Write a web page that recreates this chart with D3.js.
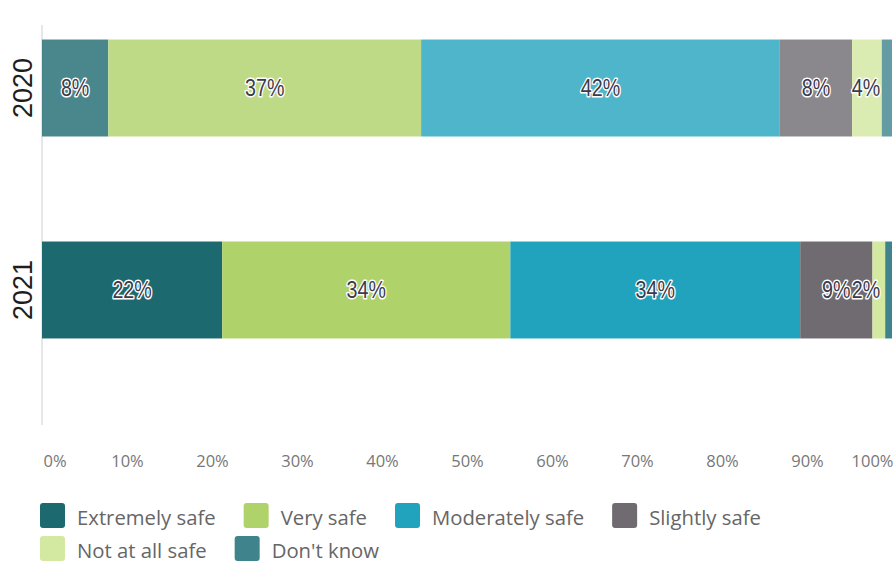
<!DOCTYPE html>
<html>
<head>
<meta charset="utf-8">
<script src="https://cdn.jsdelivr.net/npm/d3@7"></script>
<style>
  html, body { margin: 0; padding: 0; background: #fff; }
  svg { display: block; }
</style>
</head>
<body>
<svg id="chart" width="896" height="562"></svg>
<script>
// ---- data ----
const years = ["2020", "2021"];
const categories = ["Extremely safe", "Very safe", "Moderately safe", "Slightly safe", "Not at all safe", "Don't know"];
const values2020 = [7.8, 36.8, 42.2, 8.5, 3.5, 1.2];
const values2021 = [21.2, 33.9, 34.1, 8.5, 1.5, 0.8];
const labels2020 = ["8%", "37%", "42%", "8%", "4%", ""];
const labels2021 = ["22%", "34%", "34%", "9%", "2%", ""];
const colors = ["#1c6a70", "#b0d26a", "#22a3bd", "#6f6b71", "#d3e8a0", "#3f838c"];
const tickValues = [0, 10, 20, 30, 40, 50, 60, 70, 80, 90, 100];
const tickLabels = ["0%", "10%", "20%", "30%", "40%", "50%", "60%", "70%", "80%", "90%", "100%"];

const svg = d3.select("#chart");

const x = d3.scaleLinear().domain([0, 100]).range([42, 892]);
const y = d3.scaleBand().domain(years).range([-15, 393]).paddingInner(0.52).paddingOuter(0.27);
const color = d3.scaleOrdinal().domain(categories).range(colors);

const rows = [
  { year: "2020", values: values2020, labels: labels2020, opacity: 0.8 },
  { year: "2021", values: values2021, labels: labels2021, opacity: 1 }
];

// axis line
svg.append("line")
  .attr("x1", x(0)).attr("x2", x(0))
  .attr("y1", 25).attr("y2", 425)
  .attr("stroke", "#cfcfcf").attr("stroke-width", 1);

// bars
rows.forEach(row => {
  let cum = 0;
  const segs = row.values.map((v, i) => {
    const s = { cat: categories[i], x0: cum, x1: cum + v, label: row.labels[i] };
    cum += v;
    return s;
  });
  const g = svg.append("g").attr("opacity", row.opacity);
  g.selectAll("rect").data(segs).join("rect")
    .attr("x", d => x(d.x0))
    .attr("width", d => x(d.x1) - x(d.x0))
    .attr("y", y(row.year))
    .attr("height", y.bandwidth())
    .attr("fill", d => color(d.cat));

  const cy = y(row.year) + y.bandwidth() / 2;
  svg.append("g").selectAll("text").data(segs.filter(d => d.label)).join("text")
    .attr("transform", d => `translate(${Math.min((x(d.x0) + x(d.x1)) / 2, x(100) - 26)},${cy}) scale(0.82,1)`)
    .attr("text-anchor", "middle")
    .attr("dominant-baseline", "central")
    .attr("font-family", "'Liberation Sans', Arial, sans-serif")
    .attr("font-size", 24)
    .attr("fill", "#3b3b4c")
    .attr("stroke", "#ffffff")
    .attr("stroke-width", 3)
    .attr("paint-order", "stroke")
    .attr("stroke-linejoin", "round")
    .text(d => d.label);

  // year label
  svg.append("text")
    .attr("transform", `translate(32,${cy}) rotate(-90)`)
    .attr("text-anchor", "middle")
    .attr("font-family", "'Liberation Sans', Arial, sans-serif")
    .attr("font-size", 27)
    .attr("fill", "#1e1e1e")
    .text(row.year);
});

// x tick labels
const xAxis = d3.axisBottom(x).tickValues(tickValues).tickSize(0)
  .tickFormat((d, i) => tickLabels[i]);
const ax = svg.append("g").attr("transform", "translate(0,452)").call(xAxis);
ax.select(".domain").remove();
ax.selectAll("text")
  .attr("font-family", "'Open Sans', sans-serif")
  .attr("font-size", 16.5)
  .attr("fill", "#777777")
  .attr("text-anchor", (d, i) => i === 0 ? "start" : (i === tickValues.length - 1 ? "end" : "middle"))
  .attr("dx", (d, i) => i === 0 ? 1 : (i === tickValues.length - 1 ? 1 : 0));

// legend
const legend = svg.append("g");
let lx = 40, ly = 503;
const sq = 25;
categories.forEach((c, i) => {
  const item = legend.append("g");
  const t = item.append("text")
    .attr("x", sq + 12).attr("y", sq / 2 + 1)
    .attr("dominant-baseline", "central")
    .attr("font-family", "'Open Sans', sans-serif")
    .attr("font-size", 20.3)
    .attr("fill", "#666666")
    .text(c);
  const w = t.node().getComputedTextLength();
  const total = sq + 12 + w;
  if (lx + total > 800) { lx = 40; ly += 33; }
  item.attr("transform", `translate(${lx},${ly})`);
  item.insert("rect", "text")
    .attr("width", sq).attr("height", sq).attr("rx", 3)
    .attr("fill", color(c));
  lx += total + 28;
});
</script>
</body>
</html>
